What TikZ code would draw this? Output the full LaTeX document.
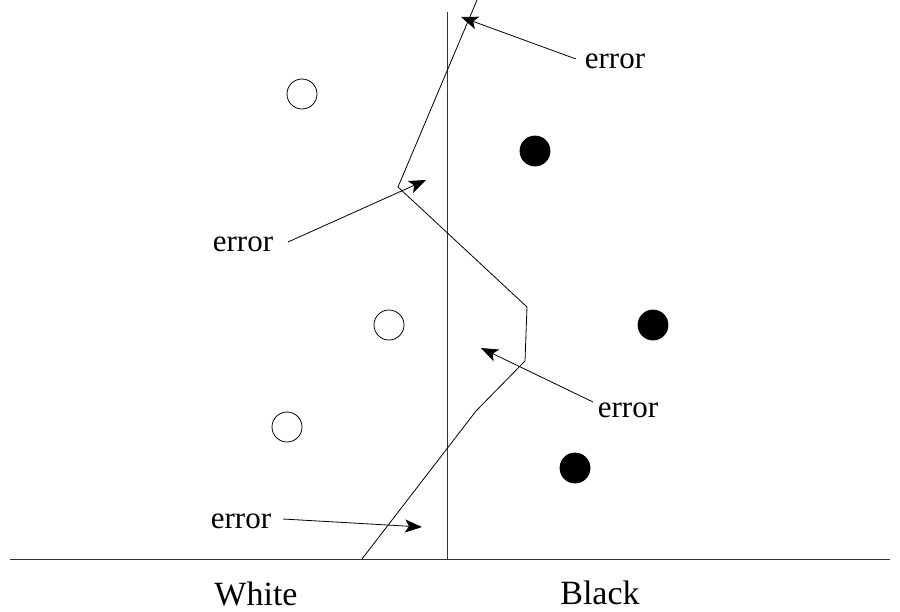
\documentclass[tikz,border=0pt]{standalone}
\usepackage{fontspec}
\setmainfont{Liberation Serif}
\usetikzlibrary{arrows.meta}
\begin{document}
\begin{tikzpicture}[x=1pt,y=-1pt,
  lbl/.style={inner sep=0pt,anchor=base,font=\fontsize{31}{31}\selectfont},
  side/.style={inner sep=0pt,anchor=base,font=\fontsize{34}{34}\selectfont},
  pt/.style={circle,draw=black,line width=0.8pt,minimum size=30pt,inner sep=0pt},
  wpt/.style={pt,fill=white},
  bpt/.style={pt,fill=black},
  err/.style={line width=0.8pt,-{Stealth[length=17pt,width=13pt,inset=4pt]}},
  thin/.style={line width=0.9pt}]
\useasboundingbox (0,0) rectangle (900,611);
% axes
\coordinate (vt) at (447,12);
\coordinate (vb) at (447,559);
\coordinate (hl) at (10,559);
\coordinate (hr) at (890,559);
\draw[thin,draw=black!80] (vt) -- (vb);
\draw[thin,draw=black!80] (hl) -- (hr);
% boundary polyline
\coordinate (p0) at (477,0);
\coordinate (p1) at (398,187);
\coordinate (p2) at (527,307);
\coordinate (p3) at (525,361);
\coordinate (p4) at (476,411);
\coordinate (p5) at (362,559);
\draw[line width=0.8pt] (p0) -- (p1) -- (p2) -- (p3) -- (p4) -- (p5);
% points
\node[wpt] (w1) at (302,94) {};
\node[wpt] (w2) at (389,325) {};
\node[wpt] (w3) at (287,427) {};
\node[bpt] (b1) at (535,151) {};
\node[bpt] (b2) at (653,325) {};
\node[bpt] (b3) at (575,468) {};
% labels
\node[lbl] (e1) at (615,68) {error};
\node[lbl] (e2) at (243,251) {error};
\node[lbl] (e3) at (628,417) {error};
\node[lbl] (e4) at (241,528) {error};
\node[side] (wh) at (256,605) {White};
\node[side] (bl) at (600,604) {Black};
% arrows
\coordinate (t1) at (576,59);
\coordinate (h1) at (461,17);
\coordinate (t2) at (288,242);
\coordinate (h2) at (426,180);
\coordinate (t3) at (593,402);
\coordinate (h3) at (481,348);
\coordinate (t4) at (283,519);
\coordinate (h4) at (422,527);
\draw[err] (t1) -- (h1);
\draw[err] (t2) -- (h2);
\draw[err] (t3) -- (h3);
\draw[err] (t4) -- (h4);
\end{tikzpicture}
\end{document}
